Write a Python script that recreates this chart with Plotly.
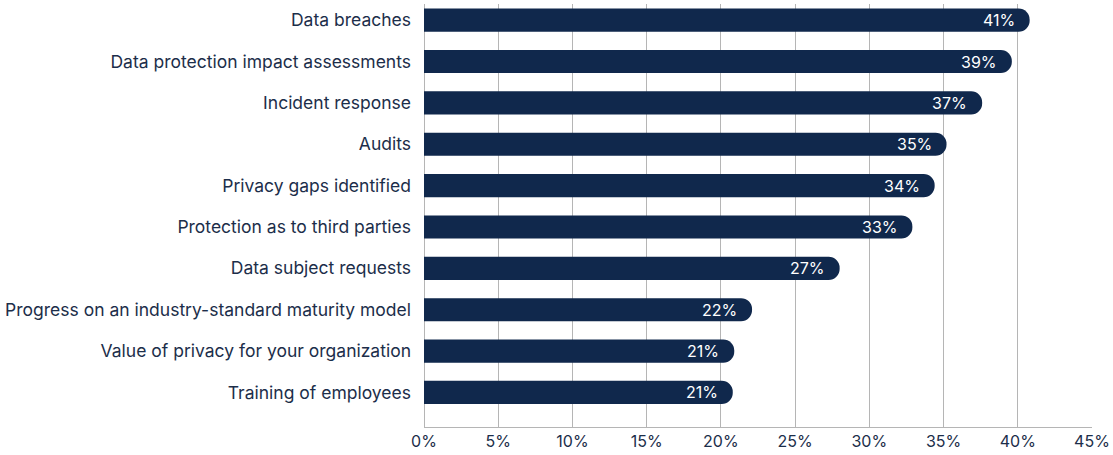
import plotly.graph_objects as go

categories = [
    "Data breaches",
    "Data protection impact assessments",
    "Incident response",
    "Audits",
    "Privacy gaps identified",
    "Protection as to third parties",
    "Data subject requests",
    "Progress on an industry-standard maturity model",
    "Value of privacy for your organization",
    "Training of employees",
]
values = [40.8, 39.6, 37.6, 35.2, 34.4, 32.9, 28.0, 22.1, 20.9, 20.8]
labels = ["41%", "39%", "37%", "35%", "34%", "33%", "27%", "22%", "21%", "21%"]
x_ticks = [0, 5, 10, 15, 20, 25, 30, 35, 40, 45]
x_tick_text = [f"{t}%" for t in x_ticks]

NAVY = "#10284c"
TEXT = "#1c2e4a"
FONT = "Inter"

idx = list(range(len(categories)))

fig = go.Figure(go.Bar(
    x=values, y=idx, orientation="h",
    marker=dict(color=NAVY, cornerradius=11, line=dict(width=0)),
    width=0.56,
    hoverinfo="skip",
))

for i, v, t in zip(idx, values, labels):
    fig.add_annotation(x=v, y=i, text=t, showarrow=False, xanchor="right",
                       xshift=-13, font=dict(family=FONT, size=16, color="white"))

fig.update_layout(
    width=1113, height=455,
    margin=dict(l=424, r=21, t=4, b=28),
    plot_bgcolor="white", paper_bgcolor="white",
    showlegend=False,
    font=dict(family=FONT, size=17, color=TEXT),
    xaxis=dict(range=[0, 45], tickvals=x_ticks, ticktext=x_tick_text,
               showgrid=True, gridcolor="#b5b5b5", gridwidth=1,
               zeroline=True, zerolinecolor="#b5b5b5", zerolinewidth=1,
               showline=True, linecolor="#b5b5b5", linewidth=1,
               ticks="", tickfont=dict(family=FONT, size=16, color=TEXT)),
    yaxis=dict(range=[9.835, -0.39], tickvals=idx, ticktext=categories,
               showgrid=False, zeroline=False, showline=False, ticks="",
               ticklabelstandoff=12,
               tickfont=dict(family=FONT, size=17.5, color=TEXT)),
)

fig.write_html("out.html",
               config={"displayModeBar": False},
               post_script="document.body.style.margin='0';document.body.style.padding='0';")
